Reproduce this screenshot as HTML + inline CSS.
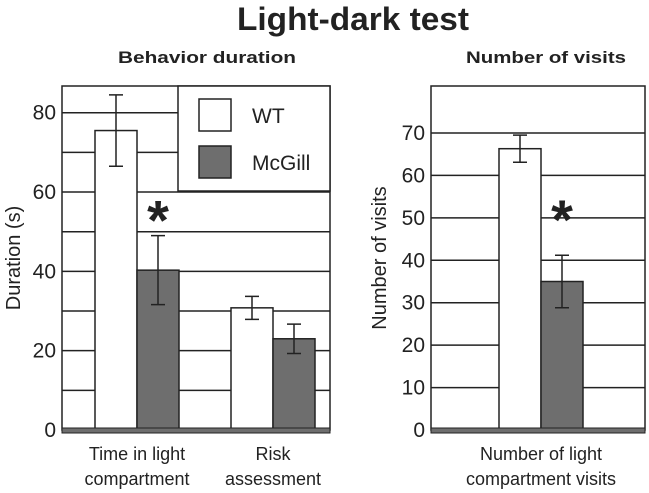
<!DOCTYPE html>
<html><head><meta charset="utf-8"><style>
body{margin:0;background:#fff}
svg{display:block;font-family:"Liberation Sans",sans-serif}
</style></head><body>
<svg id="c" width="649" height="493" viewBox="0 0 649 493">
<text x="353" y="30" font-size="32" font-weight="bold" text-anchor="middle" textLength="232" lengthAdjust="spacingAndGlyphs" fill="#222">Light-dark test</text>
<text x="207" y="63" font-size="17" font-weight="bold" text-anchor="middle" textLength="178" lengthAdjust="spacingAndGlyphs" fill="#222">Behavior duration</text>
<text x="546" y="63" font-size="17" font-weight="bold" text-anchor="middle" textLength="160" lengthAdjust="spacingAndGlyphs" fill="#222">Number of visits</text>
<g id="L"></g><g id="R"></g>
</svg>
<script>
const durCategories=["Time in light compartment","Risk assessment"];
const durWT=[75.5,30.8];
const durWTErr=[9,2.9];
const durMcGill=[40.3,23];
const durMcGillErr=[8.7,3.7];
const durTicks=[0,20,40,60,80];
const visitCategories=["Number of light compartment visits"];
const visitWT=[66.3];
const visitWTErr=[3.2];
const visitMcGill=[35];
const visitMcGillErr=[6.2];
const visitTicks=[0,10,20,30,40,50,60,70];
const NS="http://www.w3.org/2000/svg";
function mk(p,t,a){const e=document.createElementNS(NS,t);for(const k in a)e.setAttribute(k,a[k]);p.appendChild(e);return e;}
function panel(g,o){
  const y=v=>o.y0-(v-0)*(o.y0-o.yTop)/o.vTop;
  const r=mk(g,'rect',{x:o.x0,y:86,width:o.x1-o.x0,height:o.y0-86,fill:'#fff',stroke:'#222','stroke-width':1.5});
  
  for(let v=o.step;v<o.max;v+=o.step){const l=mk(g,'line',{x1:o.x0,x2:o.x1,y1:y(v),y2:y(v),stroke:'#222','stroke-width':1.5});
    }
  if(o.legend){const lg=mk(g,'rect',{x:178,y:86,width:o.x1-178,height:105,fill:'#fff',stroke:'#222','stroke-width':1.5});
    
    [['WT','#fff',99],['McGill','#6e6e6e',146]].forEach(([n,c,yy])=>{
      const s=mk(g,'rect',{x:199,y:yy,width:32,height:32,fill:c,stroke:'#222','stroke-width':1.5});
      
      const t=mk(g,'text',{x:252,y:yy+24,'font-size':21,fill:'#222'});t.textContent=n;
      });}
  o.tick.forEach(v=>{const t=mk(g,'text',{x:o.x0-6,y:y(v)+7,'font-size':21,'text-anchor':'end',fill:'#222'});t.textContent=v;
    });
  o.cats.forEach((c,i)=>{
    const cx=o.cx[i];
    [[o.wt,o.wtE,'#fff',-42,'wt'],[o.mc,o.mcE,'#6e6e6e',0,'mcgill']].forEach(([vals,errs,col,dx,n])=>{
      const b=mk(g,'rect',{x:cx+dx,y:y(vals[i]),width:42,height:o.y0-y(vals[i]),fill:col,stroke:'#222','stroke-width':1.5});
      
      const mx=cx+dx+21,hi=y(vals[i]+errs[i]),lo=y(vals[i]-errs[i]);
      const e=mk(g,'path',{d:`M${mx},${hi}V${lo}M${mx-7},${hi}H${mx+7}M${mx-7},${lo}H${mx+7}`,stroke:'#222','stroke-width':1.5,fill:'none'});
      });
    o.labelLines[i].forEach((ln,k)=>{const t=mk(g,'text',{x:cx,y:460+k*25,'font-size':18,'text-anchor':'middle',fill:'#222'});t.textContent=ln;
      });
    if(o.star[i]){const s=mk(g,'text',{x:cx+21,y:y(o.mc[i]+o.mcE[i])+o.starOff,'font-size':56,'font-weight':'bold','text-anchor':'middle',fill:'#222'});s.textContent='*';
      }
  });
  const base=mk(g,'rect',{x:o.x0,y:o.y0-2,width:o.x1-o.x0,height:5,fill:'#6e6e6e',stroke:'#222','stroke-width':1});
  
  const yt=mk(g,'text',{x:0,y:0,'font-size':20,'text-anchor':'middle',fill:'#222',transform:`translate(${o.ytx},${o.yty}) rotate(-90)`});
  yt.textContent=o.ytitle;
}
panel(document.getElementById('L'),{x0:62,x1:330,y0:430,yTop:112.7,vTop:80,step:10,max:86.5,tick:durTicks,cats:durCategories,cx:[137,273],
  wt:durWT,wtE:durWTErr,mc:durMcGill,mcE:durMcGillErr,legend:true,star:[true,false],starOff:4,labelLines:[["Time in light","compartment"],["Risk","assessment"]],
  ytitle:"Duration (s)",ytx:20,yty:258});
panel(document.getElementById('R'),{x0:431,x1:645,y0:430,yTop:133,vTop:70,step:10,max:79,tick:visitTicks,cats:visitCategories,cx:[541],
  wt:visitWT,wtE:visitWTErr,mc:visitMcGill,mcE:visitMcGillErr,legend:false,star:[true],starOff:-16,labelLines:[["Number of light","compartment visits"]],
  ytitle:"Number of visits",ytx:386,yty:258});
</script>
</body></html>
